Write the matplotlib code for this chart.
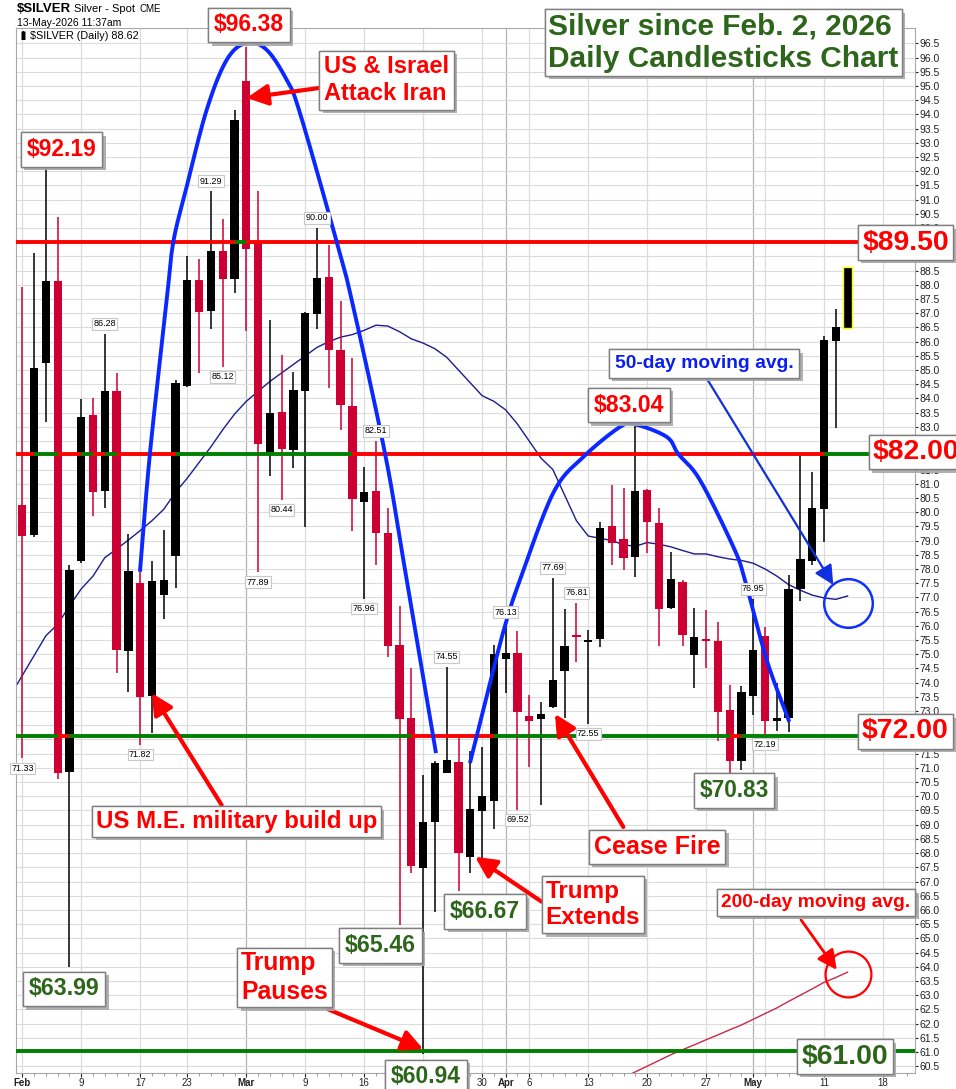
import numpy as np
import pandas as pd
import matplotlib
matplotlib.use('Agg')
import matplotlib.pyplot as plt
import matplotlib.patheffects as pe
from matplotlib.collections import LineCollection

plt.rcParams['font.family'] = ['Liberation Sans', 'DejaVu Sans']

# daily candles, Feb 2 .. May 13 2026
opens = [80.25, 79.20, 85.26, 88.14, 70.85, 78.29, 83.42, 80.76, 84.27, 75.13,
         77.52, 73.54, 77.10, 78.46, 84.45, 88.17, 87.09, 89.19, 88.20, 95.18,
         89.47, 82.09, 83.52, 82.19, 84.28, 86.97, 88.29, 85.69, 83.74, 80.37,
         80.75, 79.26, 75.33, 72.75, 67.49, 69.11, 70.83, 71.22, 67.87, 69.49,
         69.85, 74.84, 75.03, 72.83, 72.71, 73.15, 74.42, 75.67, 75.42, 75.53,
         79.51, 79.06, 78.43, 80.78, 79.61, 76.64, 77.54, 74.97, 75.54, 75.47,
         73.04, 71.24, 73.53, 75.64, 72.66, 72.77, 77.29, 78.29, 80.11, 86.04,
         86.47]
highs = [87.92, 89.11, 92.19, 90.38, 78.14, 83.98, 84.03, 86.28, 84.89, 79.23,
         77.91, 78.28, 79.37, 84.65, 89.02, 88.91, 91.29, 90.32, 94.16, 96.38,
         91.31, 86.77, 85.53, 84.92, 87.05, 90.00, 89.41, 87.43, 85.42, 81.58,
         82.51, 80.14, 76.70, 74.51, 70.75, 71.24, 74.55, 72.19, 71.59, 71.75,
         75.33, 76.13, 75.83, 73.57, 73.31, 77.69, 76.59, 76.81, 75.85, 79.67,
         80.96, 80.84, 83.04, 80.80, 80.14, 78.61, 77.60, 76.62, 76.56, 76.15,
         73.92, 73.88, 76.95, 75.97, 73.98, 77.79, 82.11, 81.43, 86.20, 87.14,
         88.62]
lows = [71.33, 79.14, 83.19, 70.60, 63.99, 78.20, 79.88, 80.16, 74.33, 73.68,
        71.82, 72.22, 76.24, 77.34, 84.40, 84.91, 86.45, 85.12, 87.73, 86.39,
        77.89, 81.28, 80.44, 81.57, 79.49, 86.44, 84.36, 82.89, 79.35, 76.96,
        78.14, 74.91, 65.46, 67.31, 60.94, 65.94, 70.81, 66.67, 67.31, 67.60,
        68.84, 73.65, 69.52, 71.04, 69.69, 73.10, 72.77, 74.74, 72.55, 75.27,
        78.14, 77.97, 77.73, 78.55, 75.29, 76.59, 75.29, 73.82, 74.53, 71.95,
        70.83, 70.93, 72.86, 72.19, 72.31, 72.27, 76.89, 78.14, 78.96, 82.95,
        86.47]
closes = [79.16, 85.09, 88.14, 70.81, 77.97, 83.36, 80.72, 84.27, 75.15, 77.93,
          73.51, 77.58, 77.61, 84.54, 88.17, 87.06, 89.19, 88.21, 93.81, 89.25,
          82.39, 83.48, 82.24, 84.30, 87.00, 88.25, 85.69, 83.77, 80.46, 80.71,
          79.28, 75.29, 72.72, 67.56, 69.08, 71.16, 71.28, 68.02, 69.55, 70.01,
          75.01, 75.03, 72.98, 72.65, 72.90, 74.09, 75.29, 75.61, 75.50, 79.43,
          78.91, 78.38, 80.75, 79.67, 76.58, 77.65, 75.68, 75.60, 75.46, 72.98,
          71.24, 73.66, 75.15, 72.65, 72.76, 77.29, 78.35, 80.14, 86.06, 86.51,
          88.62]

# 50-day MA from Jan 30 (index -1) to May 13
ma50 = [73.55, 74.25, 74.95, 75.65, 76.05, 76.70, 77.30, 77.75, 78.40, 78.70,
        79.02, 79.35, 79.70, 80.10, 80.70, 81.20, 81.75, 82.30, 82.90, 83.45,
        83.90, 84.25, 84.60, 84.90, 85.20, 85.50, 85.80, 86.00, 86.16, 86.25,
        86.40, 86.58, 86.55, 86.35, 86.10, 85.95, 85.75, 85.45, 85.00, 84.55,
        84.10, 83.90, 83.60, 83.10, 82.50, 81.90, 81.50, 80.60, 79.70, 79.16,
        79.08, 79.00, 78.85, 78.80, 78.93, 78.87, 78.78, 78.65, 78.53, 78.53,
        78.43, 78.35, 78.30, 78.20, 78.00, 77.75, 77.45, 77.25, 77.08, 76.98,
        76.93, 77.05]
# 200-day MA, Apr 16 .. May 13
ma200 = [60.10, 60.30, 60.50, 60.70, 60.90, 61.08, 61.25, 61.43, 61.60, 61.78,
         61.95, 62.15, 62.35, 62.55, 62.78, 63.00, 63.22, 63.45, 63.62, 63.81]

levels = [89.50, 82.05, 72.12, 61.05]

holidays = ['2026-02-16', '2026-04-03']
tick_dates = ['2026-02-02', '2026-02-09', '2026-02-17', '2026-02-23', '2026-03-02',
              '2026-03-09', '2026-03-16', '2026-03-23', '2026-03-30', '2026-04-01',
              '2026-04-06', '2026-04-13', '2026-04-20', '2026-04-27', '2026-05-01',
              '2026-05-11', '2026-05-18']
tick_labels = ['Feb', '9', '17', '23', 'Mar', '9', '16', '23', '30', 'Apr',
               '6', '13', '20', '27', 'May', '11', '18']
month_dates = ['2026-03-02', '2026-04-01', '2026-05-01']

# hand-drawn arcs (trading-day index, price)
arc1_x = [9.98, 10.83, 12.25, 12.81, 13.94, 15.64, 17.34, 19.03, 20.73, 22.43,
          23.55, 26.67, 27.94, 30.76, 32.32, 35.09]
arc1_y = [77.90, 82.08, 87.47, 89.51, 91.45, 94.16, 95.92, 96.52, 96.27, 95.21,
          94.05, 89.51, 87.47, 82.08, 78.32, 71.52]
arc2_x = [37.97, 39.95, 41.09, 42.21, 45.04, 47.58, 50.70, 51.97, 54.66, 55.64,
          57.48, 60.31, 61.30, 63.14, 65.06]
arc2_y = [71.17, 74.45, 76.21, 77.61, 80.68, 81.94, 83.00, 83.09, 82.65, 82.05,
          81.13, 78.78, 77.61, 74.80, 72.62]

RED = '#cc0033'
TXT_RED = '#ff0000'
TXT_GRN = '#2d661b'

days = pd.bdate_range('2026-02-02', '2026-05-29')
days = days[~days.isin(pd.to_datetime(holidays))]
pos = {d: i for i, d in enumerate(days)}
n = len(opens)
x = np.arange(n)
o = np.array(opens); h = np.array(highs); l = np.array(lows); c = np.array(closes)
cols = np.where(c >= o, 'black', RED)

fig = plt.figure(figsize=(9.56, 10.89), dpi=100)
ax = fig.add_axes([16 / 956, 1 - 1073 / 1089, 899 / 956, 1045 / 1089])
ax.set_xlim(-0.534, 75.72)
ax.set_ylim(60.26, 97.04)

# grid
yt = np.arange(60.5, 96.51, 0.5)
ax.set_yticks(yt)
ax.set_yticklabels([f'{v:.1f}' for v in yt])
ax.grid(axis='y', color='#dcdcdc', lw=0.8, zorder=0)
grid_days = tick_dates + ['2026-05-04']
for d in grid_days:
    col = '#b4b4b4' if d in month_dates else '#dcdcdc'
    ax.axvline(pos[pd.Timestamp(d)], color=col, lw=0.9, zorder=0.5)

# candles
ax.vlines(x, l, h, colors=cols, lw=1.1, zorder=3)
edges = ['none'] * (n - 1) + ['#ffff00']
ax.bar(x, np.abs(c - o), bottom=np.minimum(o, c), width=0.7, color=cols,
       edgecolor=edges, linewidth=1, zorder=3.1)

# moving averages
ax.plot(np.arange(-1, n), ma50, color='#1c1c8f', lw=1.0, zorder=2.5)
ax.plot(np.arange(n - len(ma200), n), ma200, color='#c8284a', lw=1.0, zorder=2.5)

# level lines coloured by close vs level
xl, xr = ax.get_xlim()
for lev in levels:
    xs = [xl] + list(x) + [xr]
    segs, sc = [], []
    for i in range(len(xs) - 1):
        ci = closes[max(i - 1, 0)]
        segs.append([(xs[i], lev), (xs[i + 1], lev)])
        sc.append('#008000' if ci >= lev else '#ff0000')
    ax.add_collection(LineCollection(segs, colors=sc, linewidths=2.8,
                                     capstyle='butt', zorder=4))


def smooth(px, py, k=16):
    p = np.column_stack([px, py])
    p = np.vstack([2 * p[0] - p[1], p, 2 * p[-1] - p[-2]])
    out = []
    for i in range(1, len(p) - 2):
        p0, p1, p2, p3 = p[i - 1], p[i], p[i + 1], p[i + 2]
        for t in np.linspace(0, 1, k, endpoint=False):
            out.append(0.5 * (2 * p1 + (-p0 + p2) * t
                              + (2 * p0 - 5 * p1 + 4 * p2 - p3) * t * t
                              + (-p0 + 3 * p1 - 3 * p2 + p3) * t ** 3))
    out.append(p[-2])
    return np.array(out)


for ax_, ay_ in [(arc1_x, arc1_y), (arc2_x, arc2_y)]:
    s = smooth(ax_, ay_)
    ax.plot(s[:, 0], s[:, 1], color='#0a28ff', lw=2.8, zorder=5,
            solid_capstyle='butt')

# circles
ax.plot(70.06, 76.79, 'o', ms=35, mfc='none', mec='#1030ff', mew=1.8, zorder=8)
ax.plot(70.01, 63.75, 'o', ms=33, mfc='none', mec='#ff0000', mew=1.6, zorder=8)

# small high/low labels
hi_lbl = [7, 16, 25, 30, 36, 41, 45, 47, 62]
lo_lbl = [0, 10, 17, 20, 22, 29, 42, 48, 63]
for i in hi_lbl:
    ax.annotate(f'{highs[i]:.2f}', xy=(i, highs[i]), xytext=(0, 4),
                textcoords='offset points', ha='center', va='bottom',
                fontsize=6.5, zorder=6,
                bbox=dict(boxstyle='square,pad=0.15', fc='white', ec='#c8c8c8', lw=0.8))
for i in lo_lbl:
    ax.annotate(f'{lows[i]:.2f}', xy=(i, lows[i]), xytext=(0, -4),
                textcoords='offset points', ha='center', va='top',
                fontsize=6.5, zorder=6,
                bbox=dict(boxstyle='square,pad=0.15', fc='white', ec='#c8c8c8', lw=0.8))


def box(bx, by, s, color, size, pad=0.25, ls=1.05):
    t = ax.text(bx, by, s, color=color, fontsize=size, fontweight='bold',
                ha='center', va='center', zorder=10, clip_on=False,
                linespacing=ls, multialignment='left',
                bbox=dict(boxstyle=f'square,pad={pad}', fc='white', ec='#7f7f7f', lw=1))
    t.get_bbox_patch().set_path_effects([
        pe.withSimplePatchShadow(offset=(2.5, -2.5), shadow_rgbFace='#a8a8a8', alpha=0.9),
        pe.Normal()])
    return t


def arrow(tail, head, color, lw=3, ms=14):
    ax.annotate('', xy=head, xytext=tail, zorder=9,
                arrowprops=dict(arrowstyle='-|>,head_length=0.9,head_width=0.45',
                                color=color, lw=lw, shrinkA=0, shrinkB=0,
                                mutation_scale=ms))


arrow((30.0, 95.2), (19.03, 94.58), '#ff0000')
arrow((16.91, 69.69), (10.98, 73.63), '#ff0000')
arrow((50.98, 68.92), (45.18, 72.90), '#ff0000')
arrow((44.05, 66.29), (38.40, 67.87), '#ff0000')
arrow((25.95, 62.50), (34.01, 61.10), '#ff0000')
arrow((66.05, 65.65), (69.08, 63.89), '#ff0000', lw=2, ms=13)
arrow((58.05, 84.71), (68.79, 77.44), '#1030e0', lw=1.6, ms=13)

box(19.23, 97.15, '$96.38', TXT_RED, 16.5)
box(30.89, 95.20, 'US & Israel\nAttack Iran', TXT_RED, 17, pad=0.2, ls=1.22)
box(3.32, 92.77, '$92.19', TXT_RED, 16.5)
box(59.47, 96.53, 'Silver since Feb. 2, 2026\nDaily Candlesticks Chart', TXT_GRN, 21.5,
    pad=0.1, ls=1.22)
box(74.91, 89.49, '$89.50', TXT_RED, 20.4, pad=0.15)
box(57.82, 85.23, '50-day moving avg.', '#0a1ef0', 13.9, pad=0.3)
box(51.42, 83.77, '$83.04', TXT_RED, 16.6)
box(75.84, 82.12, '$82.00', TXT_RED, 20.4, pad=0.15)
box(74.91, 72.28, '$72.00', TXT_RED, 20.4, pad=0.15)
box(18.17, 69.11, 'US M.E. military build up', TXT_RED, 17.3, pad=0.15)
box(53.83, 68.22, 'Cease Fire', TXT_RED, 18, pad=0.2)
box(60.37, 70.20, '$70.83', TXT_GRN, 16.3)
box(48.41, 66.19, 'Trump\nExtends', TXT_RED, 17.5, pad=0.15, ls=1.22)
box(39.25, 65.95, '$66.67', TXT_GRN, 16.5)
box(67.32, 66.26, '200-day moving avg.', TXT_RED, 13.9, pad=0.25)
box(30.38, 64.75, '$65.46', TXT_GRN, 16.7)
box(22.24, 63.62, 'Trump\nPauses', TXT_RED, 17.8, pad=0.15, ls=1.22)
box(3.54, 63.22, '$63.99', TXT_GRN, 16.7)
box(34.24, 60.12, '$60.94', TXT_GRN, 16.5)
box(69.78, 60.84, '$61.00', TXT_GRN, 20.4, pad=0.15)

# axes styling
ax.yaxis.tick_right()
ax.tick_params(axis='y', labelsize=7.5, length=2.5, pad=1, colors='#222222')
tx = [pos[pd.Timestamp(d)] for d in tick_dates]
ax.set_xticks(tx)
ax.set_xticklabels(tick_labels)
ax.set_xticks(np.arange(0, 76), minor=True)
ax.tick_params(axis='x', labelsize=7, length=3, pad=0.5, colors='#222222')
ax.tick_params(axis='x', which='minor', length=2, color='#888888')
for lab in ax.get_xticklabels():
    if lab.get_text() in ('Feb', 'Mar', 'Apr', 'May'):
        lab.set_fontweight('bold')
for sp in ax.spines.values():
    sp.set_color('#a8a8a8')

# header
fig.text(17 / 956, 1 - 9 / 1089, '$SILVER', fontsize=9.5, fontweight='bold', va='center')
fig.text(74 / 956, 1 - 9 / 1089, 'Silver - Spot', fontsize=8, va='center')
fig.text(139 / 956, 1 - 9.5 / 1089, 'CME', fontsize=7, va='center')
fig.text(17 / 956, 1 - 23 / 1089, '13-May-2026 11:37am', fontsize=7.5, va='center')
ax.text(0.016, 0.9925, '$SILVER (Daily) 88.62', transform=ax.transAxes,
        fontsize=7.8, va='center', ha='left', zorder=7)
ax.text(0.003, 0.9925, '\u2590\u258c', transform=ax.transAxes, fontsize=5,
        va='center', ha='left', zorder=7)

fig.savefig('out.png', dpi=100)
